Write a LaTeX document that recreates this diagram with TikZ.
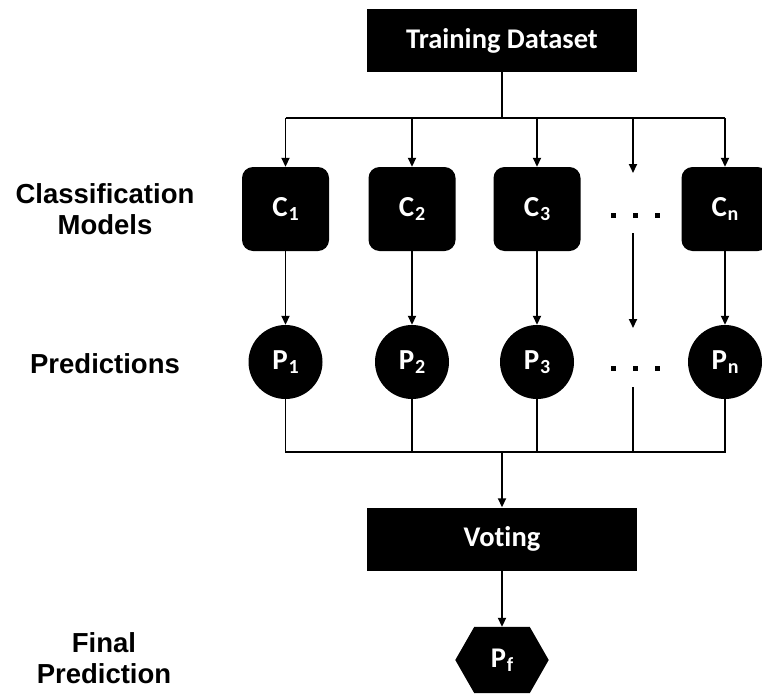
\documentclass[tikz,border=0pt]{standalone}
\usepackage{fontspec}
\setmainfont{Carlito}[Ligatures=NoCommon]
\newfontfamily\labelfont{Liberation Sans}
\usetikzlibrary{arrows.meta,backgrounds}
\newcommand{\sbx}[1]{\kern0.8pt\raisebox{-4.5pt}{\fontsize{20}{20}\selectfont #1}}
\newcommand{\dotrow}{\rule{5pt}{5pt}\hspace{17pt}\rule{5pt}{5pt}\hspace{17pt}\rule{5pt}{5pt}}
\begin{document}
\begin{tikzpicture}[x=1pt,y=-1pt,
  line/.style={line width=1.8pt},
  arr/.style={line width=1.8pt,-{Triangle[length=9pt,width=8pt]}},
  blackbox/.style={fill=black,text=white,inner sep=0pt,font=\fontsize{28.5}{28.5}\selectfont\bfseries},
  cbox/.style={blackbox,rounded corners=11pt,minimum width=87pt,minimum height=84pt,font=\fontsize{29}{29}\selectfont\bfseries},
  pcirc/.style={blackbox,circle,minimum size=74pt,font=\fontsize{29}{29}\selectfont\bfseries},
  widebox/.style={blackbox,minimum width=270pt,minimum height=63pt},
  sidelabel/.style={font=\labelfont\fontsize{27.5}{31}\selectfont\bfseries,align=center},
  dotsl/.style={inner sep=0pt}
]
\useasboundingbox (0,0) rectangle (762,693);

% nodes
\node[widebox] (train) at (502,40.5) {Training Dataset};
\node[cbox] (C1) at (285.5,209) {C\sbx{1}};
\node[cbox] (C2) at (412,209) {C\sbx{2}};
\node[cbox] (C3) at (537,209) {C\sbx{3}};
\node[cbox] (Cn) at (725,209) {C\sbx{n}};
\node[pcirc] (P1) at (285.5,362) {P\sbx{1}};
\node[pcirc] (P2) at (412,362) {P\sbx{2}};
\node[pcirc] (P3) at (537,362) {P\sbx{3}};
\node[pcirc] (Pn) at (725,362) {P\sbx{n}};
\node[dotsl] (dotsC) at (635,215) {\dotrow};
\node[dotsl] (dotsP) at (635,368) {\dotrow};
\node[widebox] (vote) at (502,539) {Voting};
\node[blackbox,fill=none,minimum width=55pt,minimum height=66pt] (Pf) at (502,660) {P\sbx{f}};
\begin{scope}[on background layer]
\fill[black] (Pf.north west) -- (Pf.north east) -- ([xshift=19pt]Pf.east) -- (Pf.south east) -- (Pf.south west) -- ([xshift=-19pt]Pf.west) -- cycle;
\end{scope}

\node[sidelabel] (lblC) at (105,209) {Classification\\Models};
\node[sidelabel] (lblP) at (105,364) {Predictions};
\node[sidelabel] (lblF) at (104,658) {Final\\Prediction};

% coordinates
\coordinate (bus) at (502,118);
\coordinate (bot) at (502,452);
\coordinate (d1) at (633,173);
\coordinate (d2) at (633,233);
\coordinate (d3) at (633,328);
\coordinate (d4) at (633,387);

% top distribution
\draw[line] (train.south) -- (bus);
\draw[line] (C1.north |- bus) -- (Cn.north |- bus);
\foreach \n in {C1,C2,C3,Cn} \draw[arr] (\n.north |- bus) -- (\n.north);
\draw[arr] (d1 |- bus) -- (d1);

% models to predictions
\foreach \a/\b in {C1/P1,C2/P2,C3/P3,Cn/Pn} \draw[arr] (\a.south) -- (\b.north);
\draw[arr] (d2) -- (d3);

% predictions to voting
\draw[line] (P1.south) -- (P1.south |- bot) -- (Pn.south |- bot) -- (Pn.south);
\foreach \n in {P2,P3} \draw[line] (\n.south) -- (\n.south |- bot);
\draw[line] (d4) -- (d4 |- bot);
\draw[arr] (bot) -- (vote.north);
\draw[arr] (vote.south) -- (Pf.north);
\end{tikzpicture}
\end{document}
